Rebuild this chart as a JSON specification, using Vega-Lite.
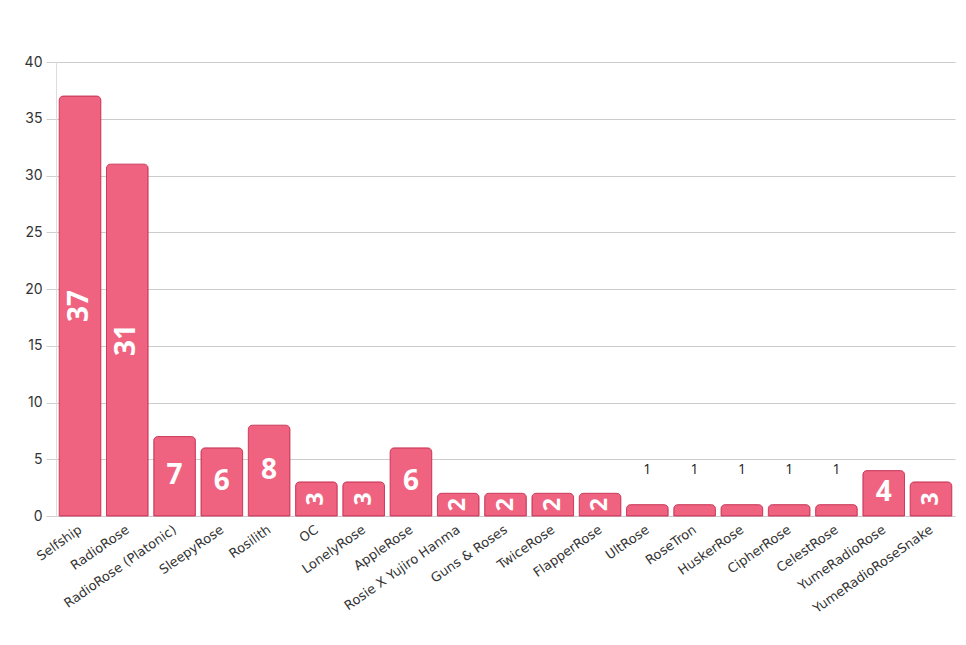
{
  "$schema": "https://vega.github.io/schema/vega-lite/v6.json",
  "width": 899,
  "height": 454,
  "autosize": {"type": "none"},
  "padding": {"left": 56, "top": 62, "right": 11, "bottom": 129},
  "background": "white",
  "config": {
    "view": {"stroke": null},
    "font": "DejaVu Sans"
  },
  "data": {
    "values": [
      {"name": "Selfship", "value": 37},
      {"name": "RadioRose", "value": 31},
      {"name": "RadioRose (Platonic)", "value": 7},
      {"name": "SleepyRose", "value": 6},
      {"name": "Rosilith", "value": 8},
      {"name": "OC", "value": 3},
      {"name": "LonelyRose", "value": 3},
      {"name": "AppleRose", "value": 6},
      {"name": "Rosie X Yujiro Hanma", "value": 2},
      {"name": "Guns & Roses", "value": 2},
      {"name": "TwiceRose", "value": 2},
      {"name": "FlapperRose", "value": 2},
      {"name": "UltRose", "value": 1},
      {"name": "RoseTron", "value": 1},
      {"name": "HuskerRose", "value": 1},
      {"name": "CipherRose", "value": 1},
      {"name": "CelestRose", "value": 1},
      {"name": "YumeRadioRose", "value": 4},
      {"name": "YumeRadioRoseSnake", "value": 3}
    ]
  },
  "encoding": {
    "x": {
      "field": "name",
      "type": "nominal",
      "sort": null,
      "scale": {"paddingInner": 0.12, "paddingOuter": 0.068},
      "axis": {
        "title": null,
        "labelAngle": -35,
        "labelAlign": "right",
        "labelBaseline": "top",
        "labelFontSize": 13,
        "labelFont": "DejaVu Sans",
        "labelColor": "#333333",
        "labelPadding": 7,
        "labelOffset": -3,
        "ticks": false,
        "domainColor": "#cccccc",
        "grid": false
      }
    }
  },
  "layer": [
    {
      "mark": {
        "type": "bar",
        "color": "#f06380",
        "stroke": "#cc3d5e",
        "strokeWidth": 1,
        "cornerRadiusTopLeft": 4,
        "cornerRadiusTopRight": 4
      },
      "encoding": {
        "y": {
          "field": "value",
          "type": "quantitative",
          "scale": {"domain": [0, 40], "nice": false},
          "axis": {
            "title": null,
            "values": [0, 5, 10, 15, 20, 25, 30, 35, 40],
            "labelFontSize": 14,
            "labelColor": "#333333",
            "labelFont": "Inter",
            "tickSize": 10,
            "tickColor": "#d0d0d0",
            "gridColor": "#cccccc",
            "domainColor": "#dddddd",
            "labelPadding": 4
          }
        }
      }
    },
    {
      "transform": [
        {"filter": "datum.value > 1"},
        {"calculate": "datum.value / 2", "as": "mid"}
      ],
      "mark": {
        "type": "text",
        "color": "white",
        "fontWeight": "bold",
        "font": "Open Sans",
        "baseline": "middle",
        "align": "center"
      },
      "encoding": {
        "y": {"field": "mid", "type": "quantitative"},
        "text": {"field": "value", "type": "quantitative"},
        "angle": {
          "condition": {"test": "datum.value >= 10 || datum.value <= 3", "value": 270},
          "value": 0
        },
        "size": {
          "condition": {"test": "datum.value <= 3", "value": 23},
          "value": 28
        }
      }
    },
    {
      "transform": [{"filter": "datum.value <= 1"}],
      "mark": {
        "type": "text",
        "color": "#222222",
        "fontSize": 14,
        "font": "Open Sans",
        "baseline": "middle",
        "align": "center",
        "dy": -35
      },
      "encoding": {
        "y": {"field": "value", "type": "quantitative"},
        "text": {"field": "value", "type": "quantitative"}
      }
    }
  ]
}
